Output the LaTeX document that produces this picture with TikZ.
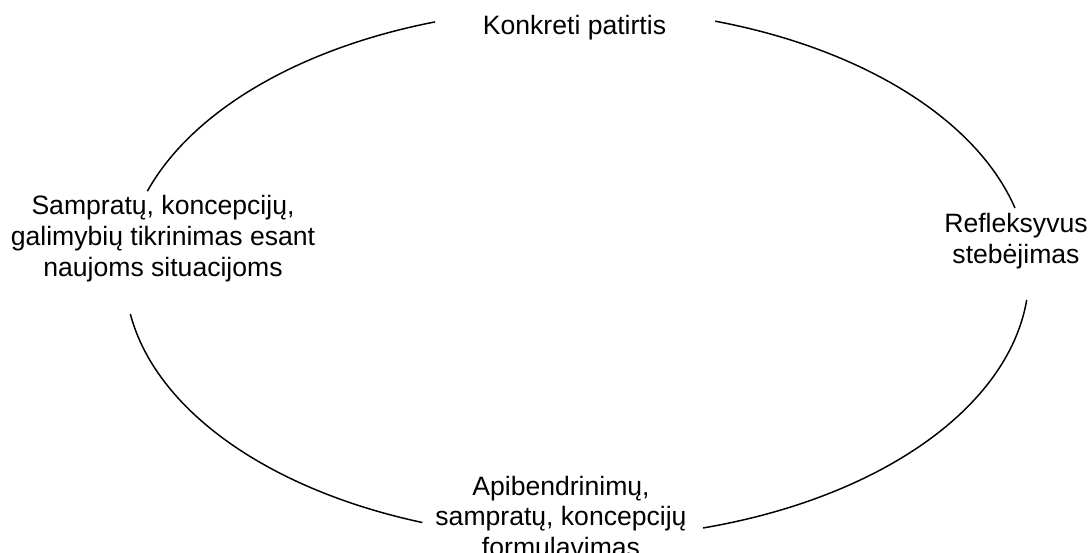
\documentclass[tikz,border=0pt]{standalone}
\usepackage{fontspec}
\setmainfont{Liberation Sans}
\begin{document}
\begin{tikzpicture}[x=0.025cm, y=0.025cm, line width=1.05pt,
    stage/.style={align=center, inner sep=0pt, font=\fontsize{18.9}{22}\selectfont}]
    \useasboundingbox (0,0) rectangle (1088,553);
    \coordinate (c) at (577,279.5);
    \node [stage] (konkreti) at (574.5,525.5) {Konkreti patirtis};
    \node [stage] (refleksyvus) at (1016,312) {Refleksyvus\\stebėjimas};
    \node [stage] (apibendrinimai) at (561,36.5) {Apibendrinimų,\\sampratų, koncepcijų\\formulavimas};
    \node [stage] (tikrinimas) at (163,314.5) {Sampratų, koncepcijų,\\galimybių tikrinimas esant\\naujoms situacijoms};
    \coordinate (ra) at ([shift={(72.2:452 and 265)}]c);
    \coordinate (rb) at ([shift={(-5.7:452 and 265)}]c);
    \coordinate (la) at ([shift={(250:452 and 265)}]c);
    \coordinate (lb) at ([shift={(161.9:452 and 265)}]c);
    \draw (ra) arc [start angle=72.2, end angle=14.3, x radius=452, y radius=265];
    \draw (rb) arc [start angle=-5.7, end angle=-73.8, x radius=452, y radius=265];
    \draw (la) arc [start angle=250, end angle=188.8, x radius=452, y radius=265];
    \draw (lb) arc [start angle=161.9, end angle=108.3, x radius=452, y radius=265];
\end{tikzpicture}
\end{document}
